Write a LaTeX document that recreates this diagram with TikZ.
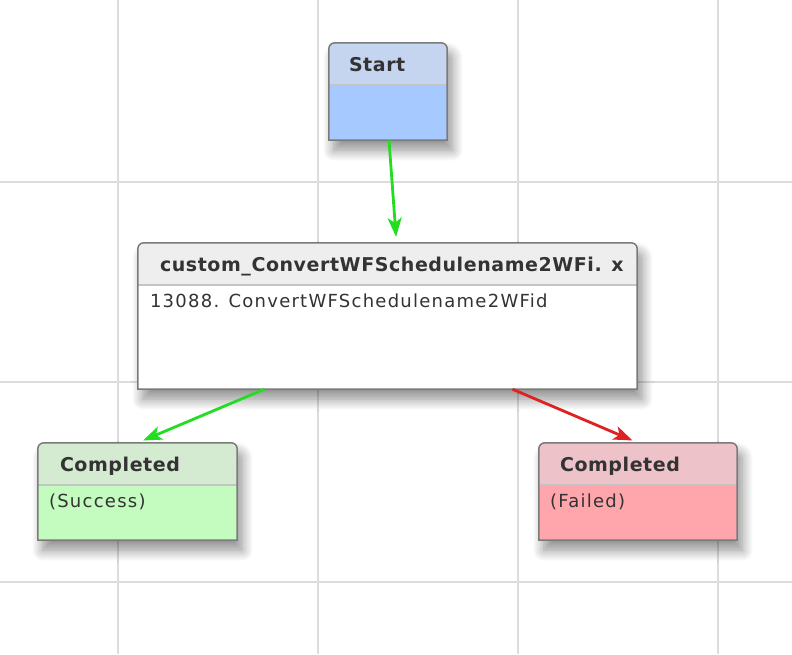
\documentclass[tikz,border=0pt]{standalone}
\usepackage{fontspec}
\setmainfont{DejaVu Sans}
\newfontfamily\titlefont[LetterSpace=3]{DejaVu Sans}
\newfontfamily\bodyfont[LetterSpace=7]{DejaVu Sans}
\usetikzlibrary{arrows.meta,positioning,shadows.blur}
\definecolor{gridgray}{HTML}{DCDCDC}
\definecolor{framegray}{HTML}{7A7A7A}
\definecolor{sepgray}{HTML}{C4C4C4}
\definecolor{textgray}{HTML}{333333}
\definecolor{starthead}{HTML}{C5D5EF}
\definecolor{startbody}{HTML}{A6C9FF}
\definecolor{taskhead}{HTML}{EEEEEE}
\definecolor{taskbody}{HTML}{FFFFFF}
\definecolor{okhead}{HTML}{D4EAD1}
\definecolor{okbody}{HTML}{C4FCC0}
\definecolor{failhead}{HTML}{EEC2C9}
\definecolor{failbody}{HTML}{FFA6AD}
\definecolor{okgreen}{HTML}{22DD22}
\definecolor{failred}{HTML}{DD2222}
\begin{document}
\begin{tikzpicture}[x=1pt,y=-1pt,
  grid/.style={draw=gridgray, line width=1.2pt},
  wfbox/.style={rectangle, inner sep=0pt, minimum height=97pt, minimum width=#1},
  shadowed/.style={blur shadow={shadow xshift=5pt, shadow yshift=-10pt, shadow blur radius=11pt, shadow blur steps=12, shadow opacity=45}},
  title/.style={anchor=base west, inner sep=0pt, text=textgray, font=\titlefont\fontsize{19}{22}\selectfont\bfseries},
  body/.style={anchor=base west, inner sep=0pt, text=textgray, font=\bodyfont\fontsize{18}{21}\selectfont},
  okarrow/.style={draw=okgreen, line width=2.8pt, shorten >=6pt, -{Stealth[length=19pt, width=14pt, inset=5pt]}},
  failarrow/.style={okarrow, draw=failred}]
\useasboundingbox (0,0) rectangle (792,654);
\foreach \x in {118,318,518,718} \draw[grid] (\x,0) -- (\x,654);
\foreach \y in {182,382,582} \draw[grid] (0,\y) -- (792,\y);

\node[wfbox=118pt] (start) at (388,91.5) {};
\node[wfbox=499pt, minimum height=146pt] (task) at (387.5,316) {};
\node[wfbox=199pt] (ok) at (137.5,491.5) {};
\node[wfbox=198pt] (fail) at (638,491.5) {};

\foreach \n/\h/\b in {start/starthead/startbody, task/taskhead/taskbody, ok/okhead/okbody, fail/failhead/failbody} {
  \path[shadowed, fill=\b] (\n.south west) -- ([yshift=-6pt]\n.north west) arc[start angle=180, end angle=90, radius=6pt] -- ([xshift=-6pt]\n.north east) arc[start angle=90, end angle=0, radius=6pt] -- (\n.south east) -- cycle;
  \path[fill=\h] ([yshift=-42pt]\n.north west) -- ([yshift=-6pt]\n.north west) arc[start angle=180, end angle=90, radius=6pt] -- ([xshift=-6pt]\n.north east) arc[start angle=90, end angle=0, radius=6pt] -- ([yshift=-42pt]\n.north east) -- cycle;
  \draw[sepgray, line width=1.5pt] ([yshift=-42pt]\n.north west) -- ([yshift=-42pt]\n.north east);
  \draw[framegray, line width=1.5pt] (\n.south west) -- ([yshift=-6pt]\n.north west) arc[start angle=180, end angle=90, radius=6pt] -- ([xshift=-6pt]\n.north east) arc[start angle=90, end angle=0, radius=6pt] -- (\n.south east) -- cycle;
}

\draw[okarrow] ([xshift=1pt]start.south) -- ([xshift=9pt]task.north);
\draw[okarrow] ([xshift=-123pt]task.south) -- (ok.north);
\draw[failarrow] ([xshift=125pt]task.south) -- (fail.north);

\node[title] (starttitle) at ([xshift=20pt, yshift=-29pt]start.north west) {Start};
\node[title] (tasktitle) at ([xshift=22pt, yshift=-29pt]task.north west) {custom\_ConvertWFSchedulename2WFi.};
\node[title] (taskclose) at ([xshift=-26pt, yshift=-29pt]task.north east) {x};
\node[body] (tasktext) at ([xshift=12pt, yshift=-65pt]task.north west) {13088. ConvertWFSchedulename2WFid};
\node[title] (oktitle) at ([xshift=22pt, yshift=-29pt]ok.north west) {Completed};
\node[body] (oktext) at ([xshift=11pt, yshift=-65pt]ok.north west) {(Success)};
\node[title] (failtitle) at ([xshift=21pt, yshift=-29pt]fail.north west) {Completed};
\node[body] (failtext) at ([xshift=11pt, yshift=-65pt]fail.north west) {(Failed)};
\end{tikzpicture}
\end{document}
